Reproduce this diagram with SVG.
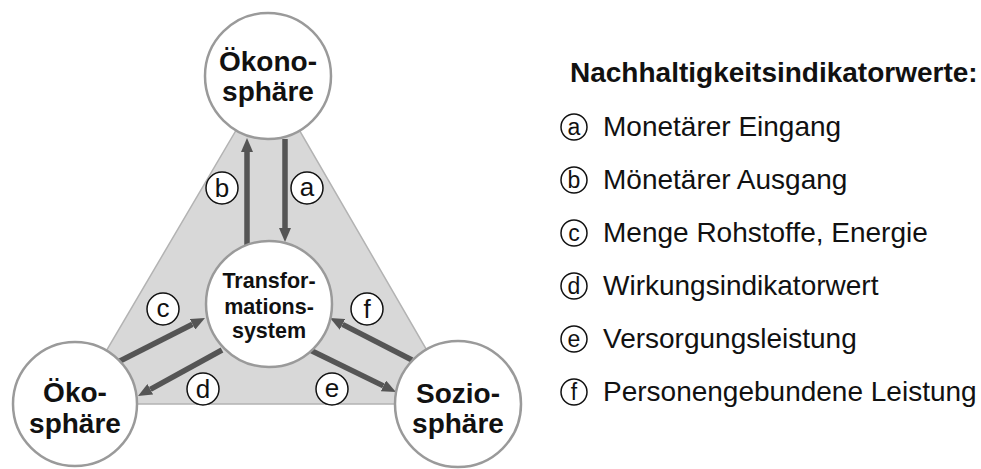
<svg xmlns="http://www.w3.org/2000/svg" width="981" height="469" viewBox="0 0 981 469">
<style>
.node{fill:#fff;stroke:#9a9a9a;stroke-width:2.5}
.nt{font-family:"Liberation Sans",Arial,sans-serif;font-weight:bold;font-size:28px;fill:#111;text-anchor:middle}
.tt{font-family:"Liberation Sans",Arial,sans-serif;font-weight:bold;font-size:21.5px;fill:#111;text-anchor:middle}
.arr{stroke:#555;stroke-width:5.5;fill:none;marker-end:url(#ah)}
.lc{fill:#fff;stroke:#111;stroke-width:1.5}
.lt{font-family:"Liberation Sans",Arial,sans-serif;font-size:26px;fill:#111;text-anchor:middle}
.lt2{font-family:"Liberation Sans",Arial,sans-serif;font-size:23px;fill:#111;text-anchor:middle}
.leg{font-family:"Liberation Sans",Arial,sans-serif;font-size:28px;fill:#111}
</style>
<defs>
<marker id="ah" markerUnits="userSpaceOnUse" markerWidth="14" markerHeight="12" refX="0" refY="6" orient="auto">
<path d="M0,0 L14,6 L0,12 z" fill="#555"/>
</marker>
</defs>
<rect width="981" height="469" fill="#fff"/>
<polygon id="triangle" points="268,76 75,404 458,404" fill="#d8d8d8" stroke="#b3b3b3" stroke-width="1.5"/>
<g id="connectors">
<line class="arr" x1="285" y1="139" x2="285" y2="228"/>
<line class="arr" x1="247" y1="250" x2="247" y2="152"/>
<line class="arr" x1="118" y1="362" x2="192.5" y2="324.3"/>
<line class="arr" x1="222" y1="350" x2="150.3" y2="389.3"/>
<line class="arr" x1="310" y1="350" x2="383.4" y2="385.9"/>
<line class="arr" x1="412" y1="360" x2="342.5" y2="324.4"/>
</g>
<g id="oekonosphaere">
<circle class="node" cx="268" cy="76" r="63"/>
<text class="nt" x="268" y="71">Ökono-</text>
<text class="nt" x="268" y="101">sphäre</text>
</g>
<g id="transformationssystem">
<circle class="node" cx="269" cy="304" r="63"/>
<text class="tt" x="269" y="288">Transfor-</text>
<text class="tt" x="269" y="314">mations-</text>
<text class="tt" x="269" y="338">system</text>
</g>
<g id="oekosphaere">
<circle class="node" cx="75" cy="404" r="62"/>
<text class="nt" x="75" y="402">Öko-</text>
<text class="nt" x="75" y="433">sphäre</text>
</g>
<g id="soziosphaere">
<circle class="node" cx="458" cy="404" r="63"/>
<text class="nt" x="458" y="403">Sozio-</text>
<text class="nt" x="458" y="433">sphäre</text>
</g>
<g id="labels">
<circle class="lc" cx="307" cy="188" r="16"/><text class="lt" x="307" y="196">a</text>
<circle class="lc" cx="222" cy="188" r="16"/><text class="lt" x="222" y="197">b</text>
<circle class="lc" cx="163" cy="309" r="16"/><text class="lt" x="163" y="317">c</text>
<circle class="lc" cx="203" cy="389" r="16"/><text class="lt" x="203" y="398">d</text>
<circle class="lc" cx="332" cy="389" r="16"/><text class="lt" x="332" y="397">e</text>
<circle class="lc" cx="367" cy="309" r="16"/><text class="lt" x="367" y="318">f</text>
</g>
<g id="legend">
<text x="570" y="82" font-family="Liberation Sans, Arial, sans-serif" font-weight="bold" font-size="28" fill="#111">Nachhaltigkeitsindikatorwerte:</text>
<circle class="lc" cx="574" cy="127" r="13"/><text class="lt2" x="574" y="135">a</text>
<text class="leg" x="603" y="136">Monetärer Eingang</text>
<circle class="lc" cx="574" cy="180" r="13"/><text class="lt2" x="574" y="188">b</text>
<text class="leg" x="603" y="189">Mönetärer Ausgang</text>
<circle class="lc" cx="574" cy="233" r="13"/><text class="lt2" x="574" y="241">c</text>
<text class="leg" x="603" y="242">Menge Rohstoffe, Energie</text>
<circle class="lc" cx="574" cy="286" r="13"/><text class="lt2" x="574" y="294">d</text>
<text class="leg" x="603" y="295">Wirkungsindikatorwert</text>
<circle class="lc" cx="574" cy="339" r="13"/><text class="lt2" x="574" y="347">e</text>
<text class="leg" x="603" y="348">Versorgungsleistung</text>
<circle class="lc" cx="574" cy="392" r="13"/><text class="lt2" x="574" y="400">f</text>
<text class="leg" x="603" y="401">Personengebundene Leistung</text>
</g>
</svg>
